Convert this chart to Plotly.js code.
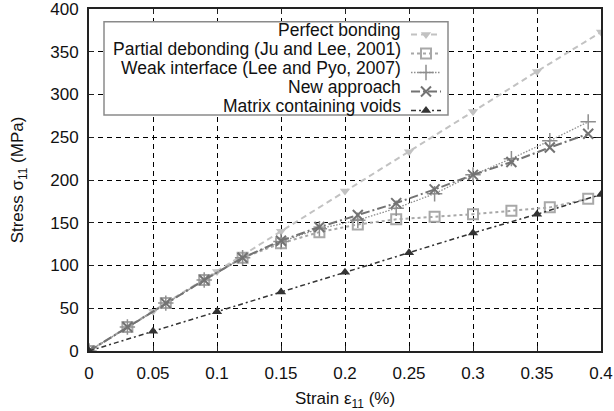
<!DOCTYPE html>
<html>
<head>
<meta charset="utf-8">
<script src="https://cdn.plot.ly/plotly-3.0.1.min.js"></script>
<style>html,body{margin:0;padding:0;background:#fff;}#chart{width:614px;height:411px;}</style>
</head>
<body>
<div id="chart"></div>
<script>
// ---- data ----
var strainCoarse = [0, 0.05, 0.1, 0.15, 0.2, 0.25, 0.3, 0.35, 0.4];
var strainFine = [0, 0.03, 0.06, 0.09, 0.12, 0.15, 0.18, 0.21, 0.24, 0.27, 0.3, 0.33, 0.36, 0.39];
var perfectBonding = [0, 46.5, 93, 140, 187, 233, 280, 327, 373];
var partialDebonding = [0, 28, 56, 83, 109, 126, 139, 148, 154, 157, 160, 164, 168, 178];
var weakInterface = [0, 28, 56, 83, 109, 128, 143, 153, 167, 184, 206, 225, 246, 268];
var newApproach = [0, 28, 56, 83, 109, 129, 145, 159, 173, 189, 206, 221, 238, 254];
var matrixVoids = [0, 23, 46, 69, 92, 115, 138, 160, 183];
var seriesNames = ["Perfect bonding", "Partial debonding (Ju and Lee, 2001)", "Weak interface (Lee and Pyo, 2007)", "New approach", "Matrix containing voids"];
var xTicks = [0, 0.05, 0.1, 0.15, 0.2, 0.25, 0.3, 0.35, 0.4];
var xTickText = ["0", "0.05", "0.1", "0.15", "0.2", "0.25", "0.3", "0.35", "0.4"];
var yTicks = [0, 50, 100, 150, 200, 250, 300, 350, 400];

var FONT = "Liberation Sans, Arial, Helvetica, sans-serif";

var traces = [
  {x: strainCoarse, y: perfectBonding, mode: "lines+markers", name: "",
   line: {color: "#c2c2c2", width: 2, dash: "6px,4px"},
   marker: {symbol: "triangle-down", size: 9, color: "#c2c2c2"}},
  {x: strainFine, y: partialDebonding, mode: "lines+markers", name: "",
   line: {color: "#a8a8a8", width: 2, dash: "3px,3px"},
   marker: {symbol: "square-open", size: 10, color: "#a8a8a8", line: {width: 2, color: "#a8a8a8"}}},
  {x: strainFine, y: weakInterface, mode: "lines+markers", name: "",
   line: {color: "#8e8e8e", width: 1.3, dash: "1.5px,1.5px"},
   marker: {symbol: "cross-thin", size: 11, color: "#8e8e8e", line: {width: 1.5, color: "#8e8e8e"}}},
  {x: strainFine, y: newApproach, mode: "lines+markers", name: "",
   line: {color: "#737373", width: 2, dash: "9px,3px,2px,3px"},
   marker: {symbol: "x-thin", size: 10, color: "#737373", line: {width: 2, color: "#737373"}}},
  {x: strainCoarse, y: matrixVoids, mode: "lines+markers", name: "",
   line: {color: "#333333", width: 1.5, dash: "5px,3px,2px,3px"},
   marker: {symbol: "triangle-up", size: 9, color: "#333333"}}
];

// legend text rows (right-aligned, symbols drawn by Plotly's legend to their right)
var rowY = [30, 49, 68, 87, 106];
var annotations = seriesNames.map(function (t, i) {
  return {xref: "paper", yref: "paper", x: (403 - 89) / 512, y: (351 - rowY[i]) / 342,
          xanchor: "right", yanchor: "middle", showarrow: false, text: t,
          font: {family: FONT, size: 17.5, color: "#111"}};
});

var layout = {
  width: 614, height: 411,
  margin: {l: 89, r: 13, t: 9, b: 60},
  paper_bgcolor: "#fff", plot_bgcolor: "#fff",
  font: {family: FONT, size: 17, color: "#111"},
  showlegend: true,
  legend: {x: (406 - 89) / 512, y: (351 - 20) / 342, xanchor: "left", yanchor: "top",
           bgcolor: "rgba(0,0,0,0)", borderwidth: 0, font: {size: 11}, itemwidth: 30,
           tracegroupgap: 0},
  xaxis: {range: [0, 0.4], tickvals: xTicks, ticktext: xTickText, ticks: "inside", ticklen: 5,
          tickcolor: "#222", mirror: "ticks", showline: true, linecolor: "#222", linewidth: 2,
          showgrid: true, gridcolor: "#000", gridwidth: 1, griddash: "5px,4px", zeroline: false,
          ticklabelstandoff: 6, ticklabeloverflow: "allow", tickfont: {size: 17},
          title: {text: "Strain ε<sub>11</sub> (%)", standoff: 10, font: {size: 17}}},
  yaxis: {range: [0, 400], tickvals: yTicks, ticks: "inside", ticklen: 5,
          tickcolor: "#222", mirror: "ticks", showline: true, linecolor: "#222", linewidth: 2,
          showgrid: true, gridcolor: "#000", gridwidth: 1, griddash: "5px,4px", zeroline: false,
          ticklabelstandoff: 5, ticklabeloverflow: "allow", tickfont: {size: 17},
          title: {text: "Stress σ<sub>11</sub> (MPa)", standoff: 22, font: {size: 17}}},
  shapes: [{type: "rect", xref: "paper", yref: "paper", layer: "above",
            x0: (104 - 89) / 512, x1: (448 - 89) / 512, y0: (351 - 115) / 342, y1: (351 - 21.7) / 342,
            line: {color: "#8a8a8a", width: 1.5}, fillcolor: "#fff"}],
  annotations: annotations
};

Plotly.newPlot("chart", traces, layout, {displayModeBar: false, staticPlot: true});
</script>
</body>
</html>
